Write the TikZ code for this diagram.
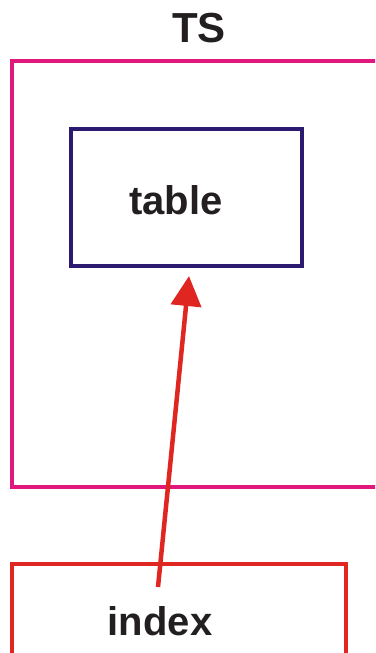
\documentclass[tikz,border=0pt]{standalone}
\usepackage{fontspec}
\setmainfont{Liberation Sans}
\usetikzlibrary{arrows.meta}
\definecolor{tsmag}{HTML}{E0187E}
\definecolor{tabnavy}{HTML}{2B1A70}
\definecolor{idxred}{HTML}{DF2620}
\definecolor{inkdark}{HTML}{231F20}
\begin{document}
\begin{tikzpicture}[x=1pt,y=-1pt,
  frame/.style={draw, line width=4pt, inner sep=0pt, outer sep=0pt},
  lbl/.style={font=\bfseries\fontsize{40}{40}\selectfont, text=inkdark, inner sep=0pt},
  link/.style={draw=idxred, line width=4.5pt, -{Triangle[length=30pt,width=30pt]}}]
\useasboundingbox (0,0) rectangle (375,653);
\clip (0,0) rectangle (375,653);
% outer tablespace frame (runs past the right edge)
\node[frame, draw=tsmag, minimum width=400pt, minimum height=426pt, anchor=north west] (ts) at (11.5,61) {};
\node[lbl, font=\bfseries\fontsize{42}{42}\selectfont] (tslabel) at (199,28) {TS};
% table box
\node[frame, draw=tabnavy, minimum width=231pt, minimum height=137pt, anchor=north west] (tab) at (70.5,128.5) {};
\node[lbl, anchor=base] (tablabel) at (176,214) {table};
% index box (runs past the bottom edge)
\node[frame, draw=idxred, minimum width=334pt, minimum height=120pt, anchor=north west] (idx) at (11.5,564) {};
\node[lbl, anchor=base] (idxlabel) at (160,635) {index};
% pointer from index into table
\coordinate (tail) at (158,587);
\coordinate (tip) at (189,276);
\draw[link] (tail) -- (tip);
\end{tikzpicture}
\end{document}
